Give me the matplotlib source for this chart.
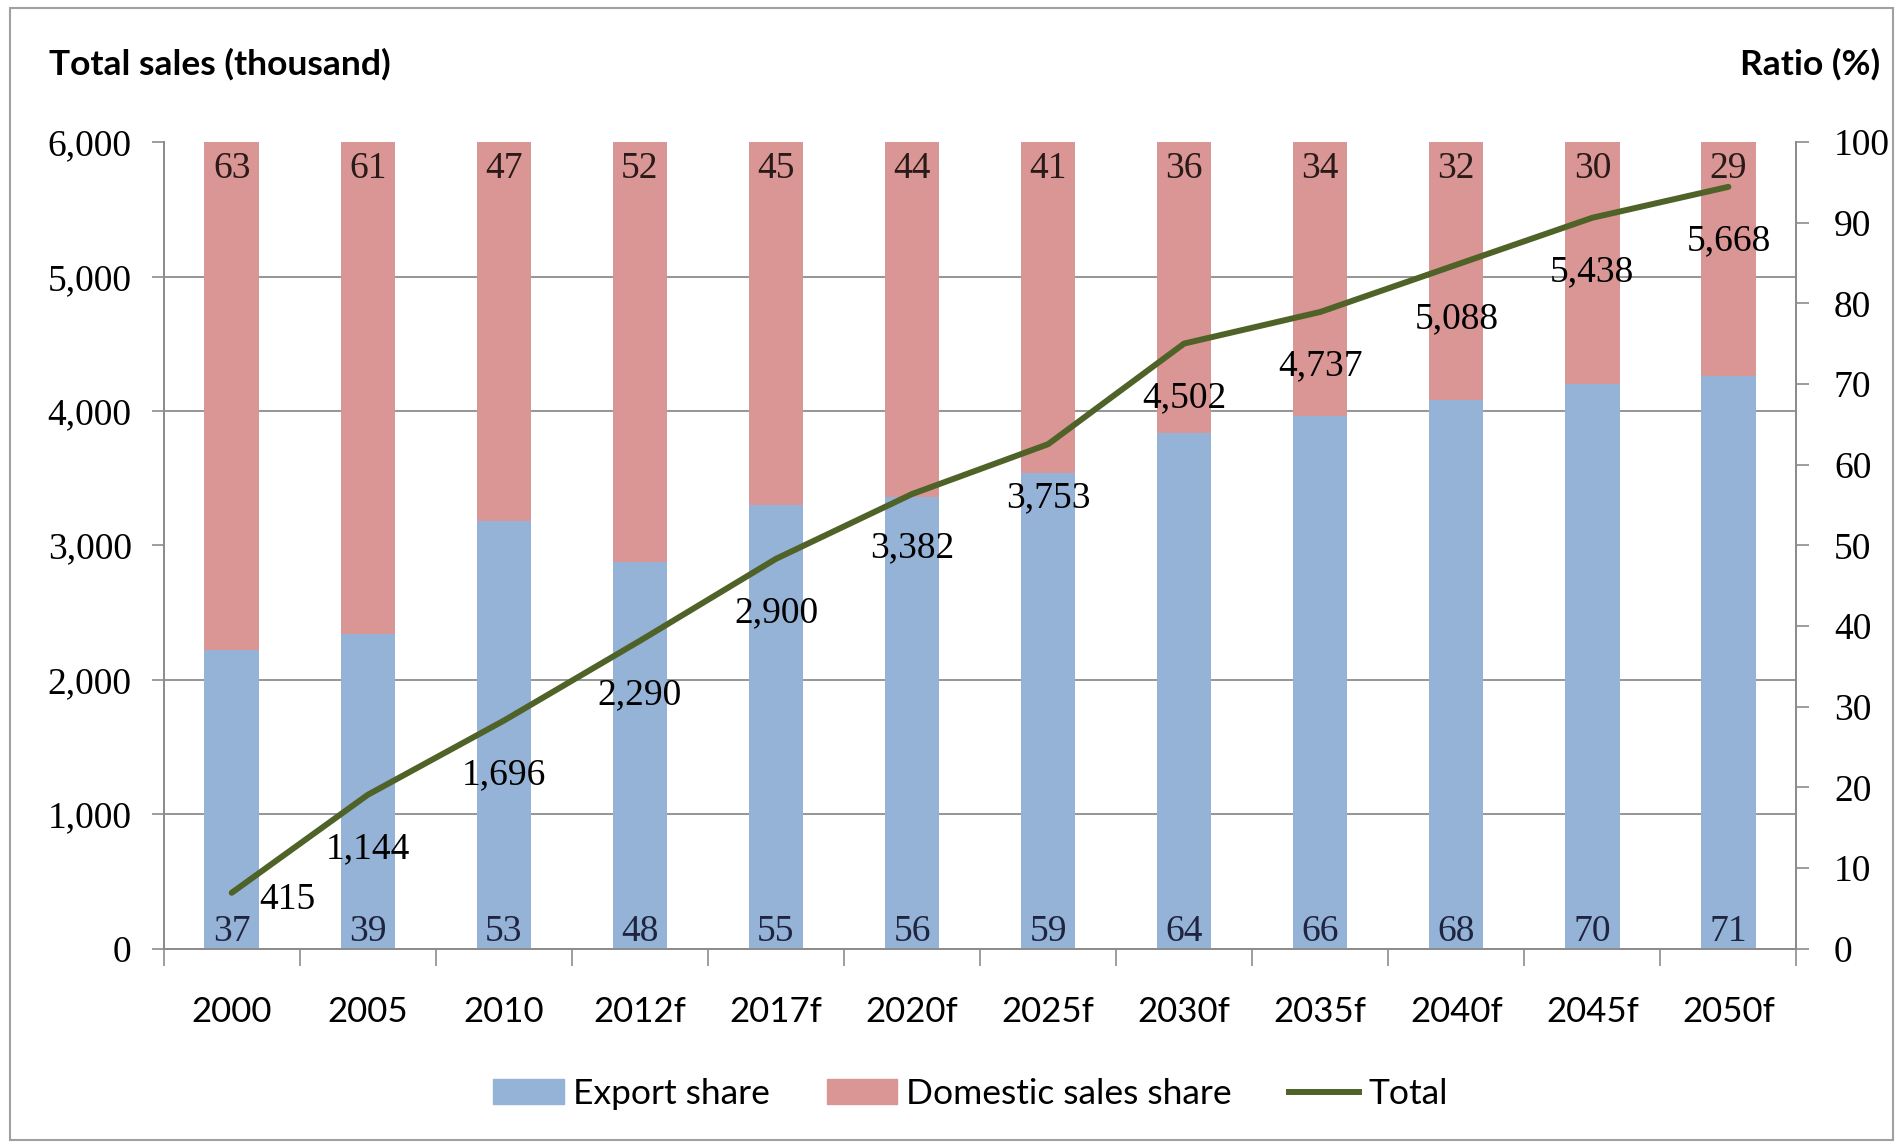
import numpy as np
import matplotlib
matplotlib.use('Agg')
import matplotlib.pyplot as plt
from matplotlib.patches import Patch, Rectangle
from matplotlib.lines import Line2D
from matplotlib.ticker import FuncFormatter

# data
years = ['2000', '2005', '2010', '2012f', '2017f', '2020f', '2025f',
         '2030f', '2035f', '2040f', '2045f', '2050f']
export_share = [37, 39, 53, 48, 55, 56, 59, 64, 66, 68, 70, 71]
domestic_share = [63, 61, 47, 52, 45, 44, 41, 36, 34, 32, 30, 29]
total_sales = [415, 1144, 1696, 2290, 2900, 3382, 3753, 4502, 4737, 5088, 5438, 5668]

c_export = '#95B3D7'
c_dom = '#D99694'
c_line = '#4F6228'
serif = 'Liberation Serif'
sans = 'Lato'
num_size = 27

fig = plt.figure(figsize=(19.03, 11.47), dpi=100)
ax = fig.add_axes([0.086, 0.173, 0.858, 0.703])
ax2 = ax.twinx()

x = np.arange(len(years))

# bars on the ratio axis
ax2.bar(x, export_share, width=0.4, color=c_export, zorder=2)
ax2.bar(x, domestic_share, width=0.4, bottom=export_share, color=c_dom, zorder=2)
for i in range(len(years)):
    ax2.annotate(str(export_share[i]), (x[i], 0), xytext=(0, 12), textcoords='offset points',
                 ha='center', va='center', fontsize=num_size, family=serif, color='#1f2540', zorder=3)
    ax2.annotate(str(domestic_share[i]), (x[i], 100), xytext=(0, -19), textcoords='offset points',
                 ha='center', va='center', fontsize=num_size, family=serif, color='#2a1a1a', zorder=3)

ax2.set_ylim(0, 100)
ax2.set_yticks(range(0, 101, 10))
# gridlines follow the left axis (every 1000 = 1/6 of the range)
ax2.set_yticks(np.linspace(0, 100, 7), minor=True)
ax2.grid(which='minor', axis='y', color='#8c8c8c', linewidth=1.3, zorder=0)
ax2.set_axisbelow(True)
ax2.tick_params(axis='y', which='minor', length=0)
ax2.tick_params(axis='y', which='major', direction='out', length=9, width=1.2,
                color='#8c8c8c', labelsize=num_size, pad=18)
for t in ax2.get_yticklabels():
    t.set_family(serif)

# total line on the sales axis, drawn above the bars
ax.set_zorder(ax2.get_zorder() + 1)
ax.patch.set_visible(False)
ax.plot(x, total_sales, color=c_line, linewidth=4.3, solid_capstyle='round')
for i in range(len(years)):
    if i == 0:
        off, ha = (20, -5), 'left'
    else:
        off, ha = (0, -39), 'center'
    ax.annotate(f'{total_sales[i]:,}', (x[i], total_sales[i]), xytext=off,
                textcoords='offset points', ha=ha, va='center', fontsize=num_size, family=serif)

ax.set_ylim(0, 6000)
ax.set_yticks(range(0, 6001, 1000))
ax.yaxis.set_major_formatter(FuncFormatter(lambda v, p: f'{int(v):,}'))
ax.tick_params(axis='y', direction='out', length=9, width=1.2, color='#8c8c8c',
               labelsize=num_size, pad=14)
for t in ax.get_yticklabels():
    t.set_family(serif)

ax.set_xlim(-0.5, len(years) - 0.5)
ax.set_xticks(np.arange(-0.5, len(years), 1))
ax.set_xticklabels([])
ax.set_xticks(x, minor=True)
ax.set_xticklabels(years, minor=True, fontsize=25, family=sans)
ax.tick_params(axis='x', which='major', direction='out', length=12, width=1.2, color='#8c8c8c')
ax.tick_params(axis='x', which='minor', length=0, pad=34)
ax2.tick_params(axis='x', which='both', length=0)

for a in (ax, ax2):
    a.spines['top'].set_visible(False)
    for s in ('left', 'right', 'bottom'):
        a.spines[s].set_color('#8c8c8c')
        a.spines[s].set_linewidth(1.3)

fig.text(0.026, 0.944, 'Total sales (thousand)', fontsize=25.5, fontweight='bold',
         family=sans, ha='left', va='center')
fig.text(0.988, 0.944, 'Ratio (%)', fontsize=25.5, fontweight='bold',
         family=sans, ha='right', va='center')

handles = [Patch(color=c_export), Patch(color=c_dom),
           Line2D([], [], color=c_line, linewidth=4.3)]
fig.legend(handles, ['Export share', 'Domestic sales share', 'Total'],
           loc='center', bbox_to_anchor=(0.51, 0.046), ncol=3, frameon=False,
           prop={'family': sans, 'size': 25.5}, handlelength=2.0, handleheight=0.7,
           columnspacing=1.6, handletextpad=0.25)

fig.patches.append(Rectangle((0.005, 0.006), 0.99, 0.987, transform=fig.transFigure,
                             fill=False, edgecolor='#a0a0a0', linewidth=1.5))

fig.savefig('out.png', dpi=100)
